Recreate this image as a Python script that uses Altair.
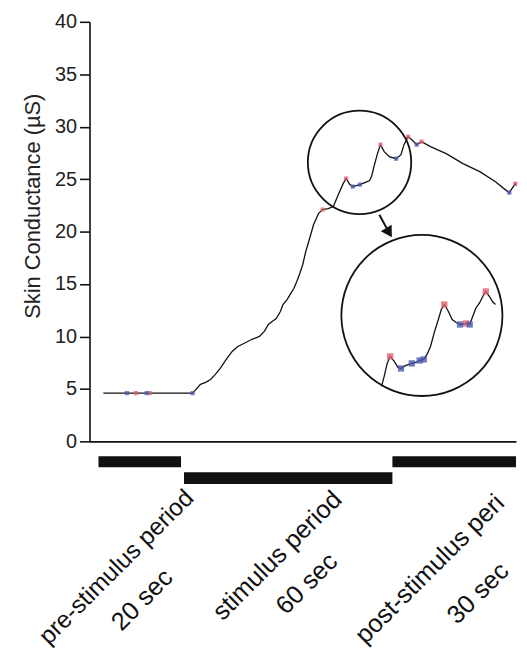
import altair as alt
import pandas as pd

# ---- main skin-conductance trace (time in s, conductance in µS) ----
time_s = [3.7, 10.0, 16.1, 27.6, 29.7, 31.1, 32.4, 33.7, 35.0, 36.6, 38.2, 39.7, 41.3,
          43.4, 45.5, 46.8, 47.9, 48.9, 50.0, 51.1, 51.8, 52.9, 53.9, 54.7, 55.5, 56.3,
          57.1, 57.9, 58.7, 60.0, 61.3, 62.4, 63.9, 65.3, 66.6, 67.9, 68.7, 69.7, 70.5,
          72.4, 73.7, 75.0, 75.5, 76.3, 77.1, 77.9, 78.9, 80.3, 82.1, 83.4, 84.2, 85.3,
          86.3, 87.6, 88.9, 91.3, 95.5, 100.0, 104.5, 108.7, 111.3, 112.4, 114.0, 114.2]
conductance = [4.6, 4.6, 4.6, 4.6, 5.43, 5.62, 5.9, 6.38, 6.95, 7.81, 8.57, 9.05, 9.33,
               9.71, 10.0, 10.48, 11.14, 11.43, 11.71, 12.38, 13.05, 13.52, 14.1, 14.57, 15.24, 16.0,
               16.86, 18.1, 19.05, 20.67, 21.71, 22.1, 22.19, 22.38, 23.52, 24.57, 25.05, 24.48, 24.29,
               24.48, 24.67, 24.86, 25.24, 26.38, 27.43, 28.29, 27.62, 27.14, 26.95, 27.33, 28.29, 29.05,
               28.76, 28.29, 28.57, 28.1, 27.43, 26.48, 25.71, 24.76, 24.0, 23.71, 24.57, 24.4]

peak_t = [12.4, 16.1, 62.4, 68.7, 77.9, 85.3, 88.9, 114.0]
peak_v = [4.6, 4.6, 22.1, 25.05, 28.29, 29.05, 28.57, 24.57]
trough_t = [10.0, 15.3, 27.6, 70.5, 72.4, 82.1, 87.6, 112.4]
trough_v = [4.6, 4.6, 4.6, 24.29, 24.48, 26.95, 28.29, 23.71]

# ---- magnified inset trace ----
inset_t = [78.2, 78.9, 79.7, 80.5, 81.6, 82.6, 83.4, 84.7, 86.3, 87.4, 88.4, 89.5, 90.5,
           91.3, 92.4, 93.4, 94.2, 95.0, 96.1, 97.1, 98.2, 99.2, 100.8, 101.8, 102.6, 103.4,
           104.5, 105.3, 106.1, 107.1, 107.9, 108.7]
inset_v = [5.24, 6.19, 7.43, 8.1, 7.62, 7.05, 6.95, 7.24, 7.43, 7.52, 7.71, 7.81, 8.38,
           9.05, 10.48, 11.62, 12.57, 13.05, 12.38, 11.62, 11.33, 11.14, 11.24, 11.14, 11.9, 12.67,
           13.24, 13.81, 14.29, 13.81, 13.33, 13.05]
inset_peak_t = [80.5, 95.0, 100.8, 106.1]
inset_peak_v = [8.1, 13.05, 11.24, 14.29]
inset_trough_t = [83.4, 86.3, 88.4, 89.5, 99.2, 101.8]
inset_trough_v = [6.95, 7.43, 7.71, 7.81, 11.14, 11.14]

# ---- annotation: zoom circle, magnifier circle, arrow ----
zoom_circle = {"t": 72.3, "v": 26.6}
magnifier_circle = {"t": 89.0, "v": 12.0}
arrow_start = {"t": 77.6, "v": 21.6}
arrow_end = {"t": 80.2, "v": 19.9}

# ---- stimulus periods ----
period_names = ["pre-stimulus period", "stimulus period", "post-stimulus period"]
period_durations = ["20 sec", "60 sec", "30 sec"]
period_start = [2.4, 25.3, 81.1]
period_end = [24.5, 81.1, 114.2]
period_lane = [0, 1, 0]

FONT = "Liberation Sans"
XDOM = [0, 114.2]
W = 429
TXT = 25.5
TY = 133

trace = pd.DataFrame({"t": time_s, "v": conductance})
peaks = pd.DataFrame({"t": peak_t, "v": peak_v})
troughs = pd.DataFrame({"t": trough_t, "v": trough_v})
inset = pd.DataFrame({"t": inset_t, "v": inset_v})
ipeaks = pd.DataFrame({"t": inset_peak_t, "v": inset_peak_v})
itroughs = pd.DataFrame({"t": inset_trough_t, "v": inset_trough_v})
zc = pd.DataFrame([zoom_circle])
mc = pd.DataFrame([magnifier_circle])
arrow = pd.DataFrame([{"t": arrow_start["t"], "v": arrow_start["v"],
                       "t2": arrow_end["t"], "v2": arrow_end["v"]}])
arrow_head = pd.DataFrame([arrow_end])
periods = pd.DataFrame({"name": period_names, "dur": period_durations,
                        "start": period_start, "end": period_end, "lane": period_lane})

xs = alt.Scale(domain=XDOM, nice=False, zero=False)
ys = alt.Scale(domain=[0, 40], nice=False)

x_enc = alt.X("t:Q", scale=xs,
              axis=alt.Axis(labels=False, ticks=False, title=None, grid=False,
                            domainColor="#111", domainWidth=1.6))
y_enc = alt.Y("v:Q", scale=ys,
              axis=alt.Axis(values=list(range(0, 41, 5)), title="Skin Conductance (µS)",
                            grid=False, domainColor="#111", domainWidth=1.6,
                            tickColor="#111", tickWidth=1.6, tickSize=10, labelPadding=3,
                            labelFontSize=20, labelFont=FONT, labelColor="#222",
                            titleFontSize=22, titleFont=FONT, titleColor="#222",
                            titleFontWeight="normal", titleAngle=270, titleAlign="center",
                            titleBaseline="alphabetic", titleX=-50, titleY=185))
xq = alt.X("t:Q", scale=xs)
yq = alt.Y("v:Q", scale=ys)

line = alt.Chart(trace).mark_line(color="#111", strokeWidth=1.3).encode(x=x_enc, y=y_enc)
pk = alt.Chart(peaks).mark_point(shape="square", filled=True, size=18, color="#e06070",
                                 opacity=0.75).encode(x=xq, y=yq)
tr = alt.Chart(troughs).mark_point(shape="square", filled=True, size=18, color="#4a5ab0",
                                   opacity=0.75).encode(x=xq, y=yq)
iline = alt.Chart(inset).mark_line(color="#111", strokeWidth=1.3).encode(x=xq, y=yq)
ipk = alt.Chart(ipeaks).mark_point(shape="square", filled=True, size=40, color="#e06070",
                                   opacity=0.8).encode(x=xq, y=yq)
itr = alt.Chart(itroughs).mark_point(shape="square", filled=True, size=40, color="#4a5ab0",
                                     opacity=0.8).encode(x=xq, y=yq)
c1 = alt.Chart(zc).mark_point(shape="circle", filled=False, size=104 * 104, color="#111",
                              strokeWidth=1.8, opacity=1).encode(x=xq, y=yq)
c2 = alt.Chart(mc).mark_point(shape="circle", filled=False, size=162 * 162, color="#111",
                              strokeWidth=1.8, opacity=1).encode(x=xq, y=yq)
shaft = alt.Chart(arrow).mark_rule(color="#111", strokeWidth=2).encode(
    x=xq, y=yq, x2="t2:Q", y2="v2:Q")
head = alt.Chart(arrow_head).mark_point(shape="triangle-down", filled=True, size=160,
                                        color="#111", angle=329, opacity=1).encode(x=xq, y=yq)

top = alt.layer(line, pk, tr, c1, c2, iline, ipk, itr, shaft, head).properties(
    width=W, height=422)

xb = alt.X("start:Q", scale=xs, axis=None)
bars0 = alt.Chart(periods).transform_filter("datum.lane == 0").mark_rect(color="#111").encode(
    x=xb, x2="end:Q", y=alt.value(15), y2=alt.value(26))
bars1 = alt.Chart(periods).transform_filter("datum.lane == 1").mark_rect(color="#111").encode(
    x=xb, x2="end:Q", y=alt.value(31), y2=alt.value(43))

base_txt = alt.Chart(periods).transform_calculate(mid="(datum.start + datum.end) / 2")
xm = alt.X("mid:Q", scale=xs, axis=None)
txt_style = dict(angle=315, baseline="middle", font=FONT, color="#111")
first = "datum.start < 10"
middle = "datum.lane == 1"
last = "datum.lane == 0 && datum.start > 10"

name_first = base_txt.transform_filter(first).mark_text(
    align="center", dy=-20.5, dx=-12, fontSize=24.5, **txt_style).encode(
    x=xm, y=alt.value(TY), text="name:N")
dur_first = base_txt.transform_filter(first).mark_text(
    align="center", dy=20.5, dx=-17, fontSize=TXT, **txt_style).encode(
    x=xm, y=alt.value(TY), text="dur:N")
name_mid = base_txt.transform_filter(middle).mark_text(
    align="center", dy=-20.5, dx=5, fontSize=TXT, **txt_style).encode(
    x=xm, y=alt.value(TY), text="name:N")
dur_mid = base_txt.transform_filter(middle).mark_text(
    align="center", dy=20.5, dx=6, fontSize=TXT, **txt_style).encode(
    x=xm, y=alt.value(TY), text="dur:N")
# the last label runs off the right edge of the figure, so it is cut there
name_last = base_txt.transform_filter(last).mark_text(
    align="left", dy=-20.5, dx=-114, limit=208, ellipsis=" ", fontSize=TXT, **txt_style).encode(
    x=xm, y=alt.value(TY), text="name:N")
dur_last = base_txt.transform_filter(last).mark_text(
    align="center", dy=31, dx=3, fontSize=TXT, **txt_style).encode(
    x=xm, y=alt.value(TY), text="dur:N")

bottom = alt.layer(bars0, bars1, name_first, dur_first, name_mid, dur_mid,
                   name_last, dur_last).properties(width=W, height=170)

chart = alt.vconcat(top, bottom, spacing=0, bounds="flush").properties(
    padding={"left": 14, "top": 2, "right": 0, "bottom": 0}
).configure_view(stroke=None)

chart.save("out.html", embed_options={"renderer": "svg", "actions": False})
